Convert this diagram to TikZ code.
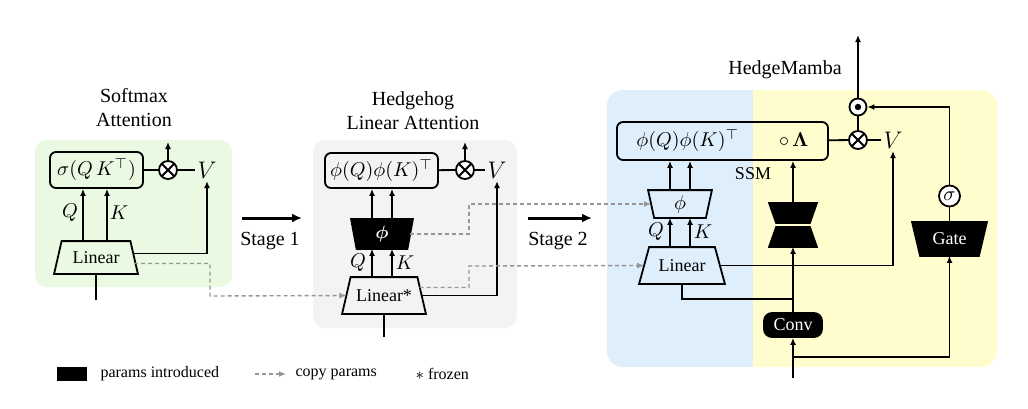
\documentclass[tikz,border=0pt]{standalone}
\usepackage{amsmath,amssymb}
\usepackage{fontspec}
\setmainfont{Liberation Serif}
\usepackage{tikz}
\usetikzlibrary{shapes.geometric,arrows.meta,positioning}
\definecolor{softgreen}{RGB}{233,249,226}
\definecolor{softgray}{RGB}{243,243,243}
\definecolor{softblue}{RGB}{222,238,251}
\definecolor{softyellow}{RGB}{255,253,206}
\definecolor{dashgray}{RGB}{150,150,150}
\pgfdeclarelayer{panel}
\pgfdeclarelayer{shapes}
\pgfsetlayers{panel,shapes,main}
\tikzset{
  box/.style={draw, rounded corners=3pt, inner sep=0pt},
  trap/.style 2 args={inner sep=0pt, font=\small, append after command={\pgfextra{\let\trapnode\tikzlastnode
      \begin{pgfonlayer}{shapes}
        \draw[line width=0.9pt, fill=#2] ([xshift={(#1)/2}]\trapnode.north west) -- ([xshift={-(#1)/2}]\trapnode.north east)
          -- ([xshift={(#1)/2}]\trapnode.south east) -- ([xshift={-(#1)/2}]\trapnode.south west) -- cycle;
      \end{pgfonlayer}}}},
  blk/.style={fill=black, text=white},
  mul/.style={draw, circle, fill=white, minimum size=9pt, inner sep=0pt,
    path picture={\draw[black] (path picture bounding box.north west) -- (path picture bounding box.south east)
      (path picture bounding box.north east) -- (path picture bounding box.south west);}},
  dotop/.style={draw, circle, fill=white, minimum size=8.5pt, inner sep=0pt,
    path picture={\fill[black] (path picture bounding box.center) circle (1.6pt);}},
  sig/.style={draw, circle, fill=white, minimum size=10.5pt, inner sep=0pt},
  vlab/.style={inner sep=1pt, font=\large},
  flow/.style={-{Latex[length=3.5pt,width=3pt]}},
  copy/.style={draw=dashgray, line width=0.7pt, dash pattern=on 2pt off 1.5pt,
    -{Latex[length=3.5pt,width=3pt]}},
  stage/.style={line width=1.5pt, -{Latex[length=5pt,width=4.5pt]}}
}

\begin{document}
\begin{tikzpicture}[x=0.5pt, y=-0.5pt, every node/.style={font=\normalsize}]
  \useasboundingbox (0,0) rectangle (1028,408);
  % Panels
  \begin{pgfonlayer}{panel}
    \fill[softgreen, rounded corners=6pt] (35,140) rectangle (232,287);
    \fill[softgray, rounded corners=6pt] (313,140) rectangle (517,328);
    \fill[softyellow, rounded corners=8pt] (607,90) rectangle (997,367);
    \begin{scope}
      \clip[rounded corners=8pt] (607,90) rectangle (997,367);
      \fill[softblue] (607,90) rectangle (753,367);
    \end{scope}
  \end{pgfonlayer}

  \begin{scope}[every path/.style={line width=0.9pt}]
  % Softmax attention
  \node[align=center] (t1) at (134,108) {Softmax\\Attention};
  \node[box, minimum width=46.5pt, minimum height=18pt] (att1) at (96.5,170) {$\sigma(Q\,K^{\top})$};
  \node[mul] (mul1) at (168,170) {};
  \node[vlab] (v1) at (207,170) {$V$};
  \node[trap={3.75pt}{none}, minimum width=37.25pt, minimum height=15.5pt] (lin1) at (96,257.5) {Linear};
  \node (q1) at (70,213) {$Q$};
  \node (k1) at (119,213) {$K$};
  \coordinate (o1) at (168,142);
  \coordinate (in1) at (96,300);
  \coordinate (cp1) at (210,296);
  \draw (att1) -- (mul1);
  \draw (mul1) -- (v1);
  \draw[flow] (mul1) -- (o1);
  \draw[flow] ([xshift=-6.5pt]lin1.north) -- ([xshift=-6.5pt]lin1.north |- att1.south);
  \draw[flow] ([xshift=5.5pt]lin1.north) -- ([xshift=5.5pt]lin1.north |- att1.south);
  \draw[flow] ([yshift=2pt]lin1.east) -| (v1.south);
  \draw (in1) -- (lin1);

  % Stage 1
  \coordinate (s1a) at (242,218);
  \coordinate (s1b) at (302,218);
  \draw[stage] (s1a) -- (s1b);
  \node (s1) at (270,241) {Stage 1};

  % Hedgehog linear attention
  \node[align=center] (t2) at (413,111) {Hedgehog\\Linear Attention};
  \node[box, minimum width=56.5pt, minimum height=17.5pt] (att2) at (381.5,170.5) {$\phi(Q)\phi(K)^{\top}$};
  \node[mul] (mul2) at (465,170) {};
  \node[vlab] (v2) at (497,170) {$V$};
  \node[trap={-2.75pt}{black}, text=white, minimum width=27.25pt, minimum height=14pt] (phi2) at (382,234) {$\boldsymbol{\phi}$};
  \node[trap={4.25pt}{none}, minimum width=36.75pt, minimum height=17.5pt] (lin2) at (384,295.5) {Linear*};
  \node (q2) at (358,263) {$Q$};
  \node (k2) at (405,263) {$K$};
  \coordinate (o2) at (465,142);
  \coordinate (in2) at (384,337);
  \draw (att2) -- (mul2);
  \draw (mul2) -- (v2);
  \draw[flow] (mul2) -- (o2);
  \draw[flow] ([xshift=-5pt]phi2.north) -- ([xshift=-5pt]phi2.north |- att2.south);
  \draw[flow] ([xshift=5pt]phi2.north) -- ([xshift=5pt]phi2.north |- att2.south);
  \draw[flow] ([xshift=-5pt]phi2.south |- lin2.north) -- ([xshift=-5pt]phi2.south);
  \draw[flow] ([xshift=5pt]phi2.south |- lin2.north) -- ([xshift=5pt]phi2.south);
  \draw[flow] (lin2.east) -| (v2.south);
  \draw (in2) -- (lin2);
  \draw[copy] ([yshift=-3pt]lin1.east) -| (cp1) -- (lin2.west);

  % Stage 2
  \coordinate (s2a) at (528,218);
  \coordinate (s2b) at (592,218);
  \draw[stage] (s2a) -- (s2b);
  \node (s2) at (558,241) {Stage 2};

  % HedgeMamba
  \node (t3) at (785,70) {HedgeMamba};
  \node[box, minimum width=105.5pt, minimum height=19pt] (ssm) at (722.5,141)
    {$\phi(Q)\phi(K)^{\top}$\qquad$\circ\,\boldsymbol{\Lambda}$};
  \node[font=\small] (ssmlab) at (753,174) {SSM};
  \node[mul] (mul3) at (858,140) {};
  \node[dotop] (dot3) at (858,107) {};
  \node[vlab] (v3) at (893,140) {$V$};
  \node[trap={-3pt}{none}, font=\normalsize, minimum width=28pt, minimum height=13pt] (phi3) at (680,204) {$\phi$};
  \node[trap={5pt}{none}, minimum width=37pt, minimum height=17.5pt] (lin3) at (682,265.5) {Linear};
  \node (q3) at (656,232) {$Q$};
  \node (k3) at (703,232) {$K$};
  \node[trap={-3.5pt}{black}, minimum width=19.5pt, minimum height=9pt] (hgt) at (793,213) {};
  \node[trap={3.5pt}{black}, minimum width=19.5pt, minimum height=9pt] (hgb) at (793,237) {};
  \node[box, blk, rounded corners=4pt, minimum width=29pt, minimum height=12pt, font=\small] (conv) at (793,325) {Conv};
  \node[trap={-4pt}{black}, text=white, minimum width=32.5pt, minimum height=16pt] (gate) at (949.5,239) {Gate};
  \node[sig] (sg) at (949.5,196) {$\sigma$};
  \coordinate (o3) at (858,35);
  \coordinate (in3) at (793,378);
  \coordinate (br3) at (793,357);
  \coordinate (br4) at (793,299);
  \coordinate (cp2) at (469,204);
  \coordinate (cp3) at (469,266);
  \draw (ssm) -- (mul3);
  \draw (mul3) -- (v3);
  \draw (mul3) -- (dot3);
  \draw[flow] (dot3) -- (o3);
  \draw[flow] ([xshift=-5pt]phi3.north) -- ([xshift=-5pt]phi3.north |- ssm.south);
  \draw[flow] ([xshift=5pt]phi3.north) -- ([xshift=5pt]phi3.north |- ssm.south);
  \draw[flow] ([xshift=-5pt]phi3.south |- lin3.north) -- ([xshift=-5pt]phi3.south);
  \draw[flow] ([xshift=5pt]phi3.south |- lin3.north) -- ([xshift=5pt]phi3.south);
  \draw[flow] (lin3.east) -| (v3.south);
  \draw[flow] (hgt.north) -- (hgt.north |- ssm.south);
  \draw[flow] (conv) -- (hgb.south);
  \draw (br4) -| (lin3.south);
  \draw[flow] (in3) -- (conv);
  \draw[flow] (br3) -| (gate.south);
  \draw (gate) -- (sg);
  \draw[flow] (sg) |- (dot3);
  \draw[copy] (phi2.east) -| (cp2) -- (phi3.west);
  \draw[copy] ([yshift=4pt, xshift=-1pt]lin2.east) -| (cp3) -- (lin3.west);

  % Legend
  \node[fill=black, minimum width=15pt, minimum height=7pt, inner sep=0pt] (keyblk) at (72,374) {};
  \node[anchor=west, font=\footnotesize] (keyblktxt) at (93,374) {params introduced};
  \coordinate (keya) at (255,374);
  \coordinate (keyb) at (286,374);
  \draw[copy] (keya) -- (keyb);
  \node[anchor=west, font=\footnotesize] (keycopy) at (288,374) {copy params};
  \node[anchor=west, font=\footnotesize] (keyfrz) at (408,374) {$\ast$ frozen};
  \end{scope}
\end{tikzpicture}
\end{document}
